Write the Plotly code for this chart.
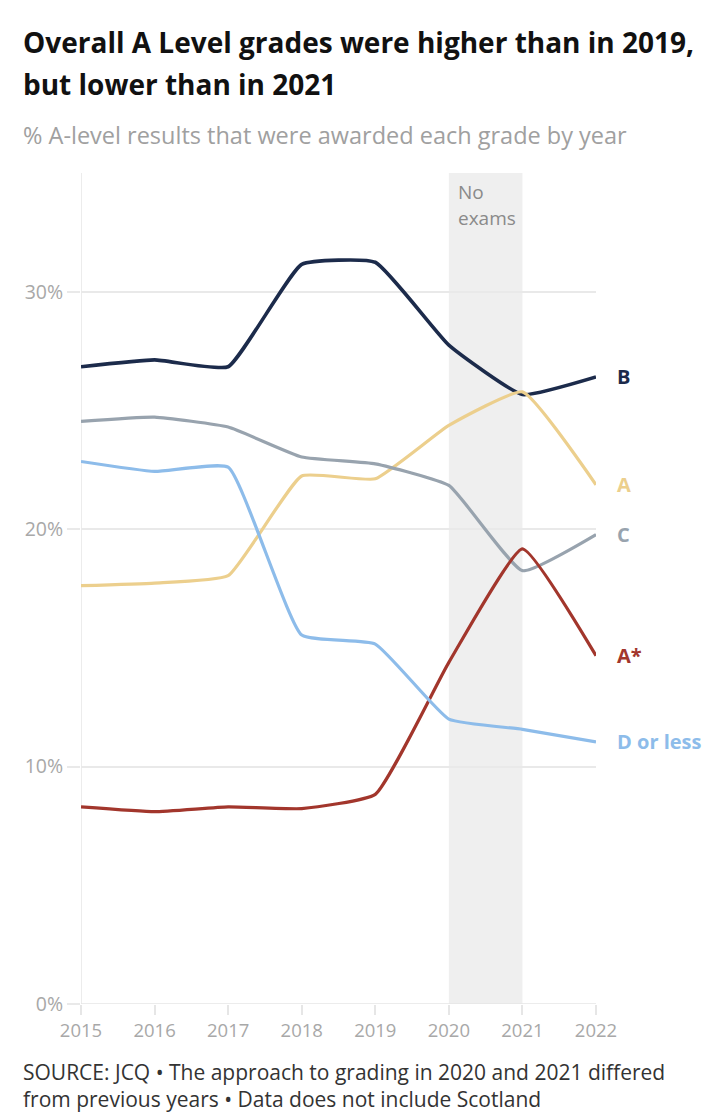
import plotly.graph_objects as go

years = [2015, 2016, 2017, 2018, 2019, 2020, 2021, 2022]
grade_b = [26.84, 27.13, 26.84, 31.15, 31.24, 27.75, 25.67, 26.41]
grade_a = [17.62, 17.73, 18.04, 22.24, 22.12, 24.37, 25.78, 21.87]
grade_c = [24.54, 24.72, 24.30, 23.04, 22.75, 21.84, 18.25, 19.77]
grade_d_or_less = [22.85, 22.43, 22.61, 15.54, 15.16, 12.00, 11.57, 11.04]
grade_a_star = [8.30, 8.10, 8.30, 8.23, 8.83, 14.39, 19.17, 14.67]

series_names = ["B", "A", "C", "A*", "D or less"]
series_values = [grade_b, grade_a, grade_c, grade_a_star, grade_d_or_less]
series_colors = ["#1c2b4b", "#eccf8d", "#98a3ae", "#a2362c", "#8dbcea"]
series_widths = [3.6, 3.2, 3.2, 3.2, 3.2]

y_ticks = [0, 10, 20, 30]
y_tick_labels = ["0%", "10%", "20%", "30%"]
shade_start, shade_end = 2020, 2021

W, H = 728, 1120
L, R, T, B = 81, 596, 173, 1004.3

def px(x):
    return (x - L) / (R - L)

def py(y):
    return (B - y) / (B - T)

FONT = "Open Sans"

fig = go.Figure()
for name, vals, col, w in zip(series_names, series_values, series_colors, series_widths):
    fig.add_trace(go.Scatter(
        x=years, y=vals, mode="lines", name=name,
        line=dict(color=col, width=w, shape="spline", smoothing=0.4),
        hoverinfo="skip", showlegend=False,
    ))
    fig.add_annotation(
        x=years[-1], y=vals[-1], xref="x", yref="y", text="<b>%s</b>" % name,
        showarrow=False, xanchor="left", yanchor="middle", xshift=19,
        font=dict(family=FONT, size=20, color=col),
    )

fig.add_vrect(x0=shade_start, x1=shade_end, fillcolor="#efefef", line_width=0, layer="below")
fig.add_annotation(x=shade_start, y=py(192), xref="x", yref="paper", text="No",
                   showarrow=False, xanchor="left", yanchor="middle", xshift=7,
                   font=dict(family=FONT, size=19, color="#8a8a8a"))
fig.add_annotation(x=shade_start, y=py(218), xref="x", yref="paper", text="exams",
                   showarrow=False, xanchor="left", yanchor="middle", xshift=7,
                   font=dict(family=FONT, size=19, color="#8a8a8a"))

fig.add_annotation(x=px(21), y=py(42), xref="paper", yref="paper",
                   text="<b>Overall A Level grades were higher than in 2019,</b>",
                   showarrow=False, xanchor="left", yanchor="middle",
                   font=dict(family=FONT, size=28, color="#111111"))
fig.add_annotation(x=px(21), y=py(84), xref="paper", yref="paper",
                   text="<b>but lower than in 2021</b>",
                   showarrow=False, xanchor="left", yanchor="middle",
                   font=dict(family=FONT, size=28, color="#111111"))
fig.add_annotation(x=px(21), y=py(135), xref="paper", yref="paper",
                   text="% A-level results that were awarded each grade by year",
                   showarrow=False, xanchor="left", yanchor="middle",
                   font=dict(family=FONT, size=23.5, color="#a0a0a0"))
fig.add_annotation(x=px(21), y=py(1072), xref="paper", yref="paper",
                   text="SOURCE: JCQ • The approach to grading in 2020 and 2021 differed",
                   showarrow=False, xanchor="left", yanchor="middle",
                   font=dict(family=FONT, size=21, color="#333333"))
fig.add_annotation(x=px(21), y=py(1099), xref="paper", yref="paper",
                   text="from previous years • Data does not include Scotland",
                   showarrow=False, xanchor="left", yanchor="middle",
                   font=dict(family=FONT, size=21, color="#333333"))

fig.update_layout(
    width=W, height=H,
    margin=dict(l=L, r=W - R, t=T, b=H - B, pad=0),
    plot_bgcolor="white", paper_bgcolor="white",
    font=dict(family=FONT),
    xaxis=dict(range=[2015, 2022], tickvals=years, ticktext=[str(y) for y in years],
               showgrid=False, zeroline=False, showline=False,
               ticks="outside", ticklen=10, tickcolor="#e6e6e6", tickwidth=1.5,
               tickfont=dict(family=FONT, size=18.5, color="#a8a8a8"), fixedrange=True),
    yaxis=dict(range=[0, 35], tickvals=y_ticks, ticktext=y_tick_labels,
               showgrid=True, gridcolor="#e9e9e9", gridwidth=1.5, zeroline=False,
               showline=False, ticks="outside", ticklen=13, tickcolor="#e9e9e9", tickwidth=1.5,
               tickfont=dict(family=FONT, size=19.5, color="#a8a8a8"), fixedrange=True),
)
fig.add_shape(type="line", xref="x", yref="paper", x0=2015, x1=2015, y0=0, y1=1,
              line=dict(color="#e6e6e6", width=1.5), layer="below")
fig.add_shape(type="line", xref="x", yref="y", x0=2015, x1=2022, y0=0, y1=0,
              line=dict(color="#e6e6e6", width=1.5), layer="below")

fig.write_html("out.html", config={"displayModeBar": False},
               post_script="document.body.style.margin='0px';")
